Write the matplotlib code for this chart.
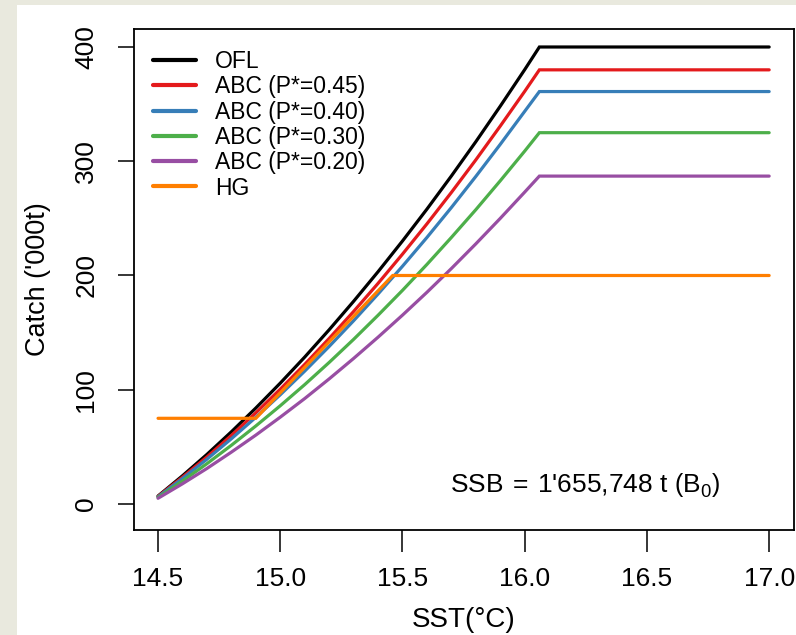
import matplotlib
matplotlib.use("Agg")
import matplotlib.pyplot as plt
from matplotlib.patches import Rectangle

plt.rcParams['font.family'] = ['Liberation Sans', 'DejaVu Sans']
plt.rcParams['mathtext.fontset'] = 'custom'
plt.rcParams['mathtext.rm'] = 'Liberation Sans'

# SST grid (deg C) and catch ('000 t)
sst = [14.5, 14.6, 14.7, 14.8, 14.9, 15.0, 15.1, 15.2, 15.3, 15.4, 15.5,
       15.6, 15.7, 15.8, 15.9, 16.0, 16.06, 17.0]
ofl = [7.0, 24.7, 43.4, 63.2, 84.0, 105.8, 128.6, 152.5, 177.4, 203.3, 230.2,
       258.1, 287.1, 317.1, 348.2, 380.2, 400.0, 400.0]
abc_45 = [6.7, 23.5, 41.2, 60.0, 79.8, 100.5, 122.2, 144.9, 168.5, 193.1, 218.7,
          245.2, 272.7, 301.2, 330.8, 361.2, 380.0, 380.0]
abc_40 = [6.3, 22.3, 39.2, 57.1, 75.9, 95.6, 116.3, 137.9, 160.4, 183.8, 208.1,
          233.3, 259.5, 286.7, 314.8, 343.7, 361.0, 361.0]
abc_30 = [5.7, 20.1, 35.3, 51.4, 68.3, 86.0, 104.5, 123.9, 144.1, 165.2, 187.0,
          209.7, 233.3, 257.6, 282.9, 308.9, 325.0, 325.0]
abc_20 = [5.0, 17.7, 31.1, 45.4, 60.3, 76.0, 92.3, 109.5, 127.4, 146.0, 165.3,
          185.3, 206.1, 227.7, 250.0, 273.0, 287.0, 287.0]
hg_sst = [14.5, 14.90, 15.46, 17.0]
hg = [75, 75, 200, 200]

series = [
    ("OFL", sst, ofl, "black"),
    ("ABC (P*=0.45)", sst, abc_45, "#E41A1C"),
    ("ABC (P*=0.40)", sst, abc_40, "#377EB8"),
    ("ABC (P*=0.30)", sst, abc_30, "#4DAF4A"),
    ("ABC (P*=0.20)", sst, abc_20, "#984EA3"),
    ("HG", hg_sst, hg, "#FF7F00"),
]

xticks = [14.5, 15.0, 15.5, 16.0, 16.5, 17.0]
xticklabels = ["14.5", "15.0", "15.5", "16.0", "16.5", "17.0"]
yticks = [0, 100, 200, 300, 400]
yticklabels = ["0", "100", "200", "300", "400"]

W, H = 796, 635
fig = plt.figure(figsize=(W / 100, H / 100), dpi=100)
fig.patch.set_facecolor("white")
beige = "#e9e9de"
fig.patches.append(Rectangle((0, 0), 17 / W, 1, transform=fig.transFigure,
                             facecolor=beige, edgecolor="none", zorder=-10))
fig.patches.append(Rectangle((0, (H - 5) / H), 1, 5 / H, transform=fig.transFigure,
                             facecolor=beige, edgecolor="none", zorder=-10))

ax = fig.add_axes([133.6 / W, (H - 530) / H, 660 / W, (530 - 29) / H])
ax.set_facecolor("white")

for label, xs, ys, col in series:
    ax.plot(xs, ys, color=col, lw=2.3, label=label, solid_capstyle="round",
            solid_joinstyle="miter")

ax.set_xlim(14.4, 17.1)
ax.set_ylim(-22.76, 415.75)

ax.set_xticks(xticks)
ax.set_xticklabels(xticklabels)
ax.set_yticks(yticks)
ax.set_yticklabels(yticklabels, rotation=90, va="center")

ax.tick_params(axis="x", length=16, width=1.1, pad=10.5, labelsize=19, direction="out")
ax.tick_params(axis="y", length=11.5, width=1.1, pad=14, labelsize=19, direction="out")

for s in ax.spines.values():
    s.set_linewidth(1.3)
    s.set_color("black")

ax.set_xlabel("SST(°C)", fontsize=20, labelpad=12)
ax.set_ylabel("Catch ('000t)", fontsize=19.5, labelpad=17)

leg = ax.legend(loc="upper left", bbox_to_anchor=(0.0288, 0.958), frameon=False,
                fontsize=16.5, handlelength=1.88, handletextpad=0.83,
                labelspacing=0.10, borderpad=0, borderaxespad=0)
for h in leg.get_lines():
    h.set_linewidth(3)

ax.text(16.247, 16.5, r"SSB$\,=\,$1'655,748 t $\left(\mathrm{B}_0\right)$",
        ha="center", va="center", fontsize=19)

fig.savefig("out.png", dpi=100, facecolor=fig.get_facecolor())
